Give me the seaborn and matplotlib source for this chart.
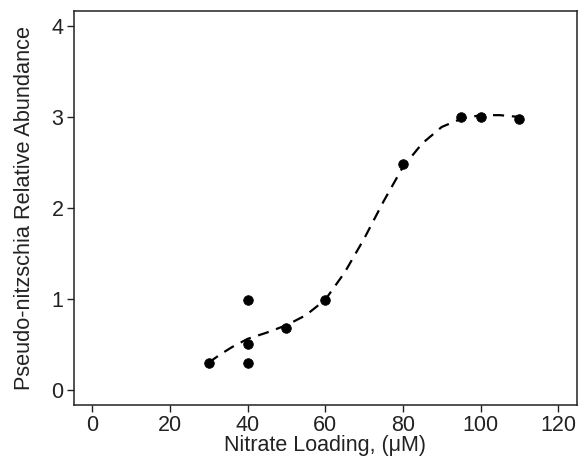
import pandas as pd
import matplotlib
matplotlib.use("Agg")
import matplotlib.pyplot as plt
import seaborn as sns

# ----------------------------------------------------------
# Data
# ----------------------------------------------------------

nitrate = [30, 40, 40, 40, 50, 60, 80, 95, 100, 110]
abundance = [0.29, 0.99, 0.50, 0.29, 0.68, 0.99, 2.48, 3.00, 3.00, 2.98]

fit_x = [30, 33, 36, 40, 45, 50, 55, 60, 65, 70, 75, 80, 85, 90, 95, 100, 105, 110]
fit_y = [0.30, 0.39, 0.47, 0.56, 0.63, 0.71, 0.82, 0.99, 1.29, 1.66, 2.07,
         2.45, 2.71, 2.89, 2.98, 3.02, 3.02, 3.00]

x_ticks = [0, 20, 40, 60, 80, 100, 120]
y_ticks = [0, 1, 2, 3, 4]

# ----------------------------------------------------------
# Style
# ----------------------------------------------------------

sns.set_theme(style="ticks")
plt.rcParams["font.family"] = ["Liberation Sans", "DejaVu Sans"]

points = pd.DataFrame({"nitrate": nitrate, "abundance": abundance})
fit = pd.DataFrame({"x": fit_x, "y": fit_y})

fig = plt.figure(figsize=(5.78, 4.59), dpi=100)
ax = fig.add_axes([0.128, 0.118, 0.870, 0.858])

sns.lineplot(
    data=fit,
    x="x",
    y="y",
    color="black",
    linewidth=1.6,
    ax=ax
)
ax.lines[0].set_dashes([5, 3.5])

sns.scatterplot(
    data=points,
    x="nitrate",
    y="abundance",
    color="black",
    s=48,
    edgecolor="black",
    zorder=3,
    ax=ax
)

ax.set_xlim(-4.7, 124.8)
ax.set_ylim(-0.165, 4.165)
ax.set_xticks(x_ticks)
ax.set_yticks(y_ticks)

ax.set_xlabel("Nitrate Loading, (\u03bcM)", fontsize=15.5, labelpad=-1, color="#222222")
ax.set_ylabel("Pseudo-nitzschia Relative Abundance", fontsize=15.7, labelpad=12, color="#222222")

ax.tick_params(axis="both", direction="out", length=5, width=1,
               labelsize=15.5, colors="#222222", pad=2.5)

for side in ["top", "right", "bottom", "left"]:
    ax.spines[side].set_visible(True)
    ax.spines[side].set_color("#222222")
    ax.spines[side].set_linewidth(1.1)

fig.savefig("out.png", dpi=100)
plt.close(fig)
